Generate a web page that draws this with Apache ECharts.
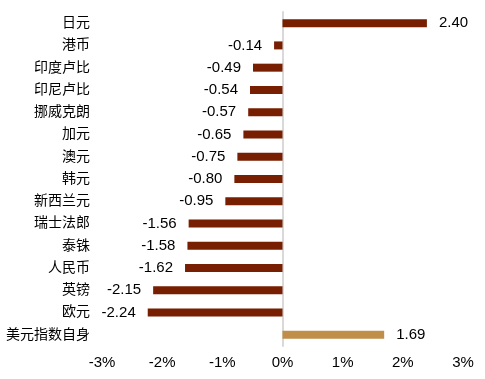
<!DOCTYPE html>
<html><head><meta charset="utf-8">
<script src="https://cdn.jsdelivr.net/npm/echarts@6/dist/echarts.min.js"></script>
<style>html,body{margin:0;padding:0;background:#fff}#c{width:485px;height:379px}</style>
</head><body><div id="c"></div>
<script>
var categories = ['日元','港币','印度卢比','印尼卢比','挪威克朗','加元','澳元','韩元','新西兰元','瑞士法郎','泰铢','人民币','英镑','欧元','美元指数自身'];
var values = [2.40,-0.14,-0.49,-0.54,-0.57,-0.65,-0.75,-0.80,-0.95,-1.56,-1.58,-1.62,-2.15,-2.24,1.69];
var xTicks = [-3,-2,-1,0,1,2,3];

var FONT = '"Liberation Sans", "Noto Sans CJK SC", sans-serif';
var data = values.map(function(v, i){
  return {
    value: v,
    itemStyle: {color: categories[i] === '美元指数自身' ? '#C08E48' : '#771F00'},
    label: {position: v < 0 ? 'left' : 'right'}
  };
});
var chart = echarts.init(document.getElementById('c'));
chart.setOption({
  animation: false,
  grid: {left: 102, right: 22, top: 12, bottom: 33, containLabel: false},
  xAxis: {
    type: 'value', min: xTicks[0], max: xTicks[xTicks.length-1], interval: 1,
    axisLine: {show: false}, axisTick: {show: false}, splitLine: {show: false},
    axisLabel: {formatter: '{value}%', color: '#000', fontSize: 15, fontFamily: FONT, margin: 9}
  },
  yAxis: {
    type: 'category', data: categories, inverse: true,
    axisLine: {show: true, onZero: true, lineStyle: {color: '#D9D9D9', width: 2}},
    axisTick: {show: false},
    axisLabel: {color: '#000', fontSize: 14, fontFamily: FONT, margin: 12}
  },
  series: [{
    type: 'bar', data: data, barWidth: 8,
    label: {show: true, distance: 12, color: '#000', fontSize: 15, fontFamily: FONT,
      formatter: function(p){ return p.value.toFixed(2); }}
  }]
});
</script></body></html>
